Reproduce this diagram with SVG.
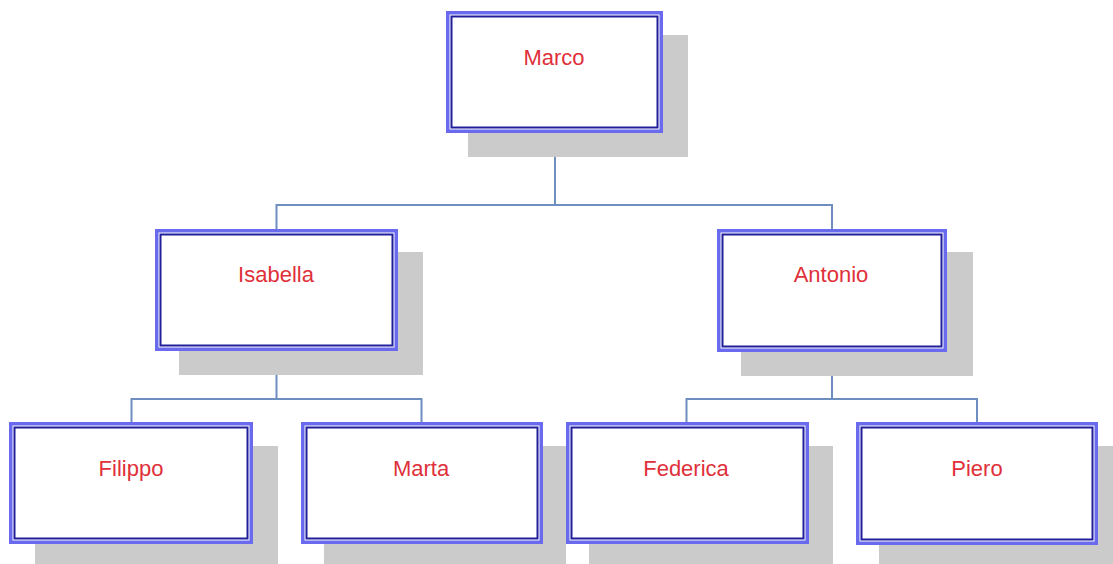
<svg xmlns="http://www.w3.org/2000/svg" width="1113" height="564" viewBox="0 0 1113 564">
  <style>
    .shadow { fill: #cbcbcb; }
    .outer { fill: #ffffff; stroke: #6a6aee; stroke-width: 3.5; }
    .inner { fill: none; stroke: #1f1f9c; stroke-width: 2; }
    .label { font-family: "Liberation Sans", Arial, sans-serif; font-size: 22px; fill: #e0303a; text-anchor: middle; }
    .link { fill: none; stroke: #6f8ec0; stroke-width: 2; }
  </style>

  <!-- connectors -->
  <g id="connectors">
    <path class="link" d="M555 133 V205 M276.5 229 V205 H832 V229"/>
    <path class="link" d="M276.5 351 V399 M131.5 422 V399 H421.5 V422"/>
    <path class="link" d="M832 352 V399 M686.5 422 V399 H977 V422"/>
  </g>

  <g id="marco">
    <rect class="shadow" x="468" y="35" width="220" height="122"/>
    <rect class="outer" x="447.75" y="12.75" width="213.5" height="118.5"/>
    <rect class="inner" x="451.5" y="16.5" width="206" height="111"/>
    <text class="label" x="554" y="65">Marco</text>
  </g>

  <g id="isabella">
    <rect class="shadow" x="179" y="252" width="244" height="123"/>
    <rect class="outer" x="156.75" y="230.75" width="239.5" height="118.5"/>
    <rect class="inner" x="160.5" y="234.5" width="232" height="111"/>
    <text class="label" x="276" y="282">Isabella</text>
  </g>

  <g id="antonio">
    <rect class="shadow" x="741" y="252" width="232" height="124"/>
    <rect class="outer" x="718.75" y="230.75" width="226.5" height="119.5"/>
    <rect class="inner" x="722.5" y="234.5" width="219" height="112"/>
    <text class="label" x="831" y="282">Antonio</text>
  </g>

  <g id="filippo">
    <rect class="shadow" x="35" y="446" width="243" height="122"/>
    <rect class="outer" x="10.75" y="423.75" width="240.5" height="118.5"/>
    <rect class="inner" x="14.5" y="427.5" width="233" height="111"/>
    <text class="label" x="131" y="476">Filippo</text>
  </g>

  <g id="marta">
    <rect class="shadow" x="324" y="446" width="242" height="122"/>
    <rect class="outer" x="302.75" y="423.75" width="238.5" height="118.5"/>
    <rect class="inner" x="306.5" y="427.5" width="231" height="111"/>
    <text class="label" x="421" y="476">Marta</text>
  </g>

  <g id="federica">
    <rect class="shadow" x="589" y="446" width="244" height="122"/>
    <rect class="outer" x="567.75" y="423.75" width="239.5" height="118.5"/>
    <rect class="inner" x="571.5" y="427.5" width="232" height="111"/>
    <text class="label" x="686" y="476">Federica</text>
  </g>

  <g id="piero">
    <rect class="shadow" x="879" y="446" width="242" height="122"/>
    <rect class="outer" x="857.75" y="423.75" width="238.5" height="119.5"/>
    <rect class="inner" x="861.5" y="427.5" width="231" height="112"/>
    <text class="label" x="977" y="476">Piero</text>
  </g>
</svg>
